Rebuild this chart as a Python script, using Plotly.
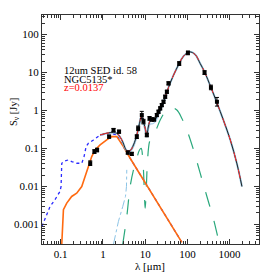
import plotly.graph_objects as go

# ---------------- data ----------------
obs_wl = [0.50, 0.628, 0.727, 1.40, 1.78, 2.41, 3.88, 4.83, 6.34, 6.82, 8.33, 9.12, 10.96,
          12.7, 14.4, 16.3, 18.9, 20.7, 22.7, 24.8, 27.2, 29.8, 32.7, 35.7, 64.0, 103, 255, 361, 501]
obs_flux = [0.041, 0.083, 0.091, 0.205, 0.307, 0.277, 0.078, 0.072, 0.205, 0.34, 0.76, 0.51, 0.227,
            0.62, 0.58, 0.58, 0.76, 0.93, 1.14, 1.39, 1.70, 2.31, 3.12, 5.2, 17.3, 33.0, 10.0, 4.06, 1.70]
obs_relerr = [0.15, 0.12, 0.12, 0.10, 0.10, 0.10, 0.10, 0.10, 0.12, 0.15, 0.25, 0.15, 0.12,
              0.12, 0.10, 0.10, 0.10, 0.10, 0.10, 0.10, 0.10, 0.10, 0.10, 0.10, 0.12, 0.12, 0.12, 0.15, 0.30]

stellar_wl = [0.036, 0.047, 0.056, 0.073, 0.096, 0.102, 0.106, 0.127, 0.152, 0.182, 0.239, 0.315,
              0.357, 0.40, 0.453, 0.596, 0.857, 1.48, 2.13, 3.06, 4.41, 13.2, 74.1]
stellar_flux = [0.000885, 0.00198, 0.00297, 0.00445, 0.00736, 0.00995, 0.0408, 0.0471, 0.050, 0.0452,
                0.0408, 0.0408, 0.061, 0.112, 0.137, 0.168, 0.227, 0.251, 0.227, 0.112, 0.0553,
                0.00766, 0.000337]

att_wl = [0.106, 0.111, 0.116, 0.139, 0.182, 0.239, 0.315, 0.378, 0.453, 0.543, 0.652, 0.857,
          1.23, 1.62, 2.13, 3.06, 4.41, 13.2, 74.1]
att_flux = [0.000304, 0.000724, 0.00243, 0.00363, 0.00544, 0.00665, 0.00995, 0.0182, 0.0334, 0.0611,
            0.0914, 0.124, 0.168, 0.205, 0.205, 0.112, 0.0553, 0.00766, 0.000337]

total_wl = [0.857, 1.48, 2.13, 2.80, 3.67, 4.41, 5.29, 6.34, 7.34, 8.33, 9.12, 10.0, 10.96, 12.0,
            13.2, 15.2, 17.3, 20.7, 27.2, 35.7, 47.0, 64.0, 81.1, 112, 153, 201, 255, 361, 501,
            721, 1038, 1493, 1960]
total_flux = [0.227, 0.261, 0.251, 0.168, 0.0879, 0.0879, 0.124, 0.227, 0.46, 0.76, 0.54, 0.34,
              0.241, 0.391, 0.54, 0.54, 0.585, 0.875, 1.70, 4.06, 8.55, 17.3, 27.0, 35.1, 29.8,
              17.3, 10.4, 4.06, 1.60, 0.54, 0.168, 0.0393, 0.00995]

lowmir_wl = [4.41, 5.29, 6.34, 7.34, 8.33, 9.12, 10.0, 10.96, 12.0, 13.2, 15.2, 17.3, 20.7, 27.2, 35.7]
lowmir_flux = [0.080, 0.11, 0.20, 0.40, 0.65, 0.45, 0.28, 0.20, 0.32, 0.44, 0.45, 0.50, 0.75, 1.5, 3.7]

dust_wl = [2.95, 3.67, 4.41, 5.29, 6.34, 7.34, 8.04, 8.80, 9.47, 10.0, 10.6, 11.4, 12.7, 14.4,
           17.3, 22.7, 29.8, 40.6, 56.4, 74.1, 97.3, 140, 201, 290, 418, 548, 622]
dust_flux = [0.000304, 0.00162, 0.00995, 0.0273, 0.0553, 0.0914, 0.101, 0.050, 0.00995, 0.00269,
             0.00814, 0.050, 0.151, 0.205, 0.277, 0.56, 0.93, 1.21, 1.03, 0.62, 0.307, 0.0914,
             0.0223, 0.00544, 0.00133, 0.000395, 0.00026]

hot_wl = [1.78, 2.33, 2.95, 3.42, 3.61, 3.67]
hot_flux = [0.000304, 0.0012, 0.00297, 0.00544, 0.00995, 0.0273]

x_tickvals = [0.1, 1, 10, 100, 1000]
x_ticktext = ["0.1", "1", "10", "100", "1000"]
y_tickvals = [0.001, 0.01, 0.1, 1, 10, 100]
y_ticktext = ["0.001", "0.01", "0.1", "1", "10", "100"]

label_lines = ["12um SED id. 58", "NGC5135*", "z=0.0137"]

# ---------------- figure ----------------
# the page body has an 8px margin, so the figure is 265x265 placed at (8,8)
OFF = 8
W = H = 273 - OFF
PL, PR, PT, PB = 42 - OFF, 14, 15 - OFF, 29
PW, PH = W - PL - PR, H - PT - PB


def px(xp):  # page pixel -> paper x
    return (xp - OFF - PL) / PW


def py(yp):  # page pixel -> paper y
    return 1 - (yp - OFF - PT) / PH


fig = go.Figure()

fig.add_trace(go.Scatter(x=hot_wl, y=hot_flux, mode="lines",
                         line=dict(color="#8cc4e6", width=1, dash="dashdot")))
fig.add_trace(go.Scatter(x=dust_wl, y=dust_flux, mode="lines", line_shape="spline",
                         line=dict(color="#2aa87c", width=1.2, dash="longdash")))
fig.add_trace(go.Scatter(x=stellar_wl, y=stellar_flux, mode="lines",
                         line=dict(color="#2a2aff", width=1.3, dash="dot")))
fig.add_trace(go.Scatter(x=att_wl, y=att_flux, mode="lines",
                         line=dict(color="#ff6a10", width=1.6)))
fig.add_trace(go.Scatter(x=lowmir_wl, y=lowmir_flux, mode="lines", line_shape="spline",
                         line=dict(color="#a9cde6", width=1.2)))
fig.add_trace(go.Scatter(x=total_wl, y=total_flux, mode="lines", line_shape="spline",
                         line=dict(color="#93c3e0", width=2)))
fig.add_trace(go.Scatter(x=total_wl, y=total_flux, mode="lines", line_shape="spline",
                         line=dict(color="#222222", width=1)))
fig.add_trace(go.Scatter(x=total_wl, y=total_flux, mode="lines", line_shape="spline",
                         line=dict(color="#ff3030", width=1, dash="dash")))

err_p = [f * e for f, e in zip(obs_flux, obs_relerr)]
err_m = [f * e / (1 + e) for f, e in zip(obs_flux, obs_relerr)]
fig.add_trace(go.Scatter(x=obs_wl, y=obs_flux, mode="markers",
                         marker=dict(symbol="square", size=4, color="black"),
                         error_y=dict(type="data", array=err_p, arrayminus=err_m,
                                      color="black", thickness=1, width=2)))

axis_common = dict(type="log", showgrid=False, zeroline=False, showline=True,
                   linecolor="#333333", linewidth=1.2, mirror="ticks", ticks="inside",
                   ticklen=5, tickcolor="#333333", tickwidth=1, automargin=False,
                   tickfont=dict(family="Liberation Serif", size=11, color="black"),
                   minor=dict(ticks="inside", ticklen=2.5, tickcolor="#333333", dtick="D1"))

fig.update_layout(
    width=W, height=H,
    margin=dict(l=PL, r=PR, t=PT, b=PB, autoexpand=False),
    paper_bgcolor="white", plot_bgcolor="white",
    showlegend=False,
    xaxis=dict(axis_common, range=[-1.443, 3.696], tickvals=x_tickvals, ticktext=x_ticktext),
    yaxis=dict(axis_common, range=[-3.517, 2.517], tickvals=y_tickvals, ticktext=y_ticktext),
)

label_colors = ["black", "black", "red"]
for i, (txt, col) in enumerate(zip(label_lines, label_colors)):
    fig.add_annotation(xref="paper", yref="paper", x=px(62), y=py(70 + 9 * i),
                       xanchor="left", yanchor="middle", showarrow=False, text=txt,
                       font=dict(family="Liberation Serif", size=10.5, color=col))

fig.add_annotation(xref="paper", yref="paper", x=px(150), y=py(265.5),
                   xanchor="center", yanchor="middle", showarrow=False,
                   text="λ [μm]", font=dict(family="Liberation Serif", size=11, color="black"))
fig.add_annotation(xref="paper", yref="paper", x=px(14), y=py(112),
                   xanchor="center", yanchor="middle", showarrow=False, textangle=-90,
                   text="S<sub>ν</sub> [Jy]", font=dict(family="Liberation Serif", size=10.5, color="black"))

fig.write_html("out.html")
